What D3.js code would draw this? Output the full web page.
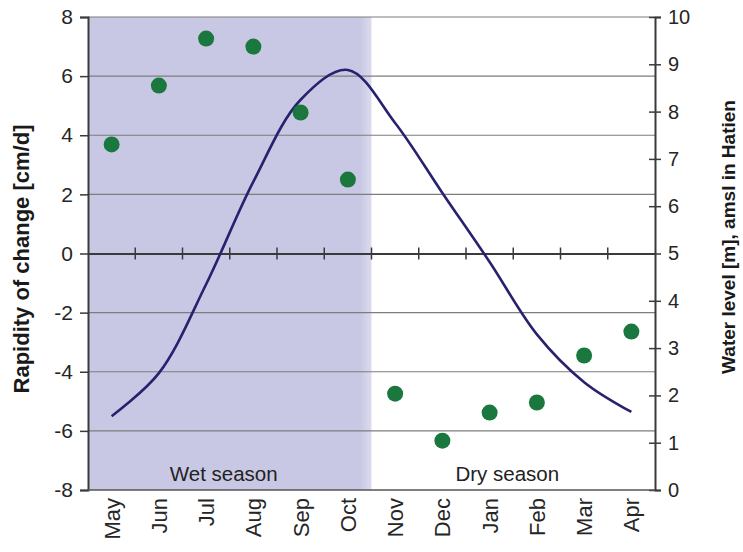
<!DOCTYPE html>
<html>
	<head>
		<meta charset="utf-8">
		<title>rapidity_water_level</title>
		<script type="text/javascript" src="https://cdn.jsdelivr.net/npm/d3@7"></script>
		<style>
			body{margin:0;background:#fff;}
			text{font-family:'Liberation Sans',Arial,sans-serif;}
		</style>
	</head>
	<body>
		<script type="text/javascript">
			var months=['May','Jun','Jul','Aug','Sep','Oct','Nov','Dec','Jan','Feb','Mar','Apr'];
			var rapidity=[3.69,5.68,7.27,7.0,4.77,2.5,-4.74,-6.33,-5.38,-5.04,-3.45,-2.64];
			var waterLevel=[1.56,2.47,4.35,6.52,8.25,8.88,7.76,6.28,4.82,3.29,2.28,1.65];
			var leftTicks=[-8,-6,-4,-2,0,2,4,6,8];
			var rightTicks=[0,1,2,3,4,5,6,7,8,9,10];
			var seasonNames=['Wet season','Dry season'];
			var seasonFrom=['May','Nov'];
			var seasonTo=['Oct','Apr'];

			var w=743;
			var h=552;
			var x0=88, x1=655, y0=17, y1=490;

			var svg=d3.select('body').append('svg')
					  .attr('width',w)
					  .attr('height',h);

			var xScale=d3.scaleBand()
						 .domain(months)
						 .range([x0,x1]);

			var yLeft=d3.scaleLinear()
						.domain([-8,8])
						.range([y1,y0]);

			var yRight=d3.scaleLinear()
						 .domain([0,10])
						 .range([y1,y0]);

			// wet season shading, soft right edge
			var grad=svg.append('defs').append('linearGradient')
						.attr('id','wetFade');
			grad.append('stop').attr('offset','0%').attr('stop-color','#c8c8e5');
			grad.append('stop').attr('offset','96%').attr('stop-color','#c8c8e5');
			grad.append('stop').attr('offset','100%').attr('stop-color','#dcdcee');

			var wetStart=xScale(seasonFrom[0]);
			var wetEnd=xScale(seasonTo[0])+xScale.bandwidth();
			svg.append('rect')
			   .attr('x',wetStart)
			   .attr('y',y0)
			   .attr('width',wetEnd-wetStart)
			   .attr('height',y1-y0)
			   .attr('fill','url(#wetFade)');

			// gridlines
			svg.selectAll('line.grid')
			   .data(leftTicks.filter(function(d){return d!==0 && d!==-8;}))
			   .enter()
			   .append('line')
			   .attr('class','grid')
			   .attr('x1',x0).attr('x2',x1)
			   .attr('y1',function(d){return yLeft(d);})
			   .attr('y2',function(d){return yLeft(d);})
			   .attr('stroke','#7d7d7d')
			   .attr('stroke-width',1.2);

			// left axis
			var leftAxis=svg.append('g')
							.attr('transform','translate('+x0+',0)')
							.call(d3.axisLeft(yLeft).tickValues(leftTicks).tickSize(8).tickPadding(7)
									.tickFormat(function(d){return String(d);}));
			leftAxis.select('.domain').attr('stroke','#3a3a3a').attr('stroke-width',2);
			leftAxis.selectAll('.tick line').attr('stroke','#3a3a3a').attr('stroke-width',1.5);
			leftAxis.selectAll('.tick text')
					.attr('font-size','21px')
					.attr('fill','#262626')
					.style('font-family','Liberation Sans, Arial, sans-serif');

			// right axis, ticks crossing the line
			var rightAxis=svg.append('g')
							 .attr('transform','translate('+x1+',0)')
							 .call(d3.axisRight(yRight).tickValues(rightTicks).tickSize(6).tickPadding(7));
			rightAxis.select('.domain').attr('stroke','#3a3a3a').attr('stroke-width',2);
			rightAxis.selectAll('.tick line').attr('x1',-6).attr('stroke','#3a3a3a').attr('stroke-width',1.5);
			rightAxis.selectAll('.tick text')
					 .attr('font-size','20px')
					 .attr('fill','#262626')
					 .style('font-family','Liberation Sans, Arial, sans-serif');

			// bottom line at -8
			svg.append('line')
			   .attr('x1',x0).attr('x2',x1)
			   .attr('y1',yLeft(-8)).attr('y2',yLeft(-8))
			   .attr('stroke','#555').attr('stroke-width',1.5);

			// zero line with category ticks
			var zeroAxis=svg.append('g')
							.attr('transform','translate(0,'+yLeft(0)+')')
							.call(d3.axisBottom(xScale).tickSize(0).tickFormat(''));
			zeroAxis.select('.domain').attr('stroke','#3a3a3a').attr('stroke-width',2);
			zeroAxis.selectAll('.tick').remove();
			svg.selectAll('line.cat')
			   .data(months.slice(1))
			   .enter()
			   .append('line')
			   .attr('class','cat')
			   .attr('x1',function(d){return xScale(d);})
			   .attr('x2',function(d){return xScale(d);})
			   .attr('y1',yLeft(0)-6)
			   .attr('y2',yLeft(0)+6)
			   .attr('stroke','#3a3a3a')
			   .attr('stroke-width',1.5);

			// month labels
			svg.selectAll('text.month')
			   .data(months)
			   .enter()
			   .append('text')
			   .attr('class','month')
			   .text(function(d){return d;})
			   .attr('transform',function(d){
						return 'translate('+(xScale(d)+xScale.bandwidth()/2)+','+(y1+8)+') rotate(-90)';
					})
			   .attr('dy','0.36em')
			   .attr('text-anchor','end')
			   .attr('font-size','22px')
			   .attr('fill','#262626');

			// water level line
			var line=d3.line()
					   .x(function(d,i){return xScale(months[i])+xScale.bandwidth()/2;})
					   .y(function(d){return yRight(d);})
					   .curve(d3.curveCatmullRom.alpha(0.5));
			svg.append('path')
			   .datum(waterLevel)
			   .attr('d',line)
			   .attr('fill','none')
			   .attr('stroke','#26226e')
			   .attr('stroke-width',2.6);

			// rapidity points
			svg.selectAll('circle')
			   .data(rapidity)
			   .enter()
			   .append('circle')
			   .attr('cx',function(d,i){return xScale(months[i])+xScale.bandwidth()/2;})
			   .attr('cy',function(d){return yLeft(d);})
			   .attr('r',8)
			   .attr('fill','#1a773d');

			// season labels
			svg.selectAll('text.season')
			   .data(seasonNames)
			   .enter()
			   .append('text')
			   .attr('class','season')
			   .text(function(d){return d;})
			   .attr('x',function(d,i){
						var a=xScale(seasonFrom[i]), b=xScale(seasonTo[i])+xScale.bandwidth();
						return (a+b)/2-6;
					})
			   .attr('y',y1-9)
			   .attr('text-anchor','middle')
			   .attr('font-size','20.5px')
			   .attr('fill','#222');

			// axis titles
			svg.append('text')
			   .text('Rapidity of change [cm/d]')
			   .attr('transform','translate(29,'+259+') rotate(-90)')
			   .attr('text-anchor','middle')
			   .attr('font-size','22px')
			   .attr('font-weight','bold')
			   .attr('fill','#1a1a1a');

			svg.append('text')
			   .text('Water level [m], amsl in Hatien')
			   .attr('transform','translate(735,'+237+') rotate(-90)')
			   .attr('text-anchor','middle')
			   .attr('font-size','19px')
			   .attr('font-weight','bold')
			   .attr('fill','#1a1a1a');
		</script>
	</body>
</html>
